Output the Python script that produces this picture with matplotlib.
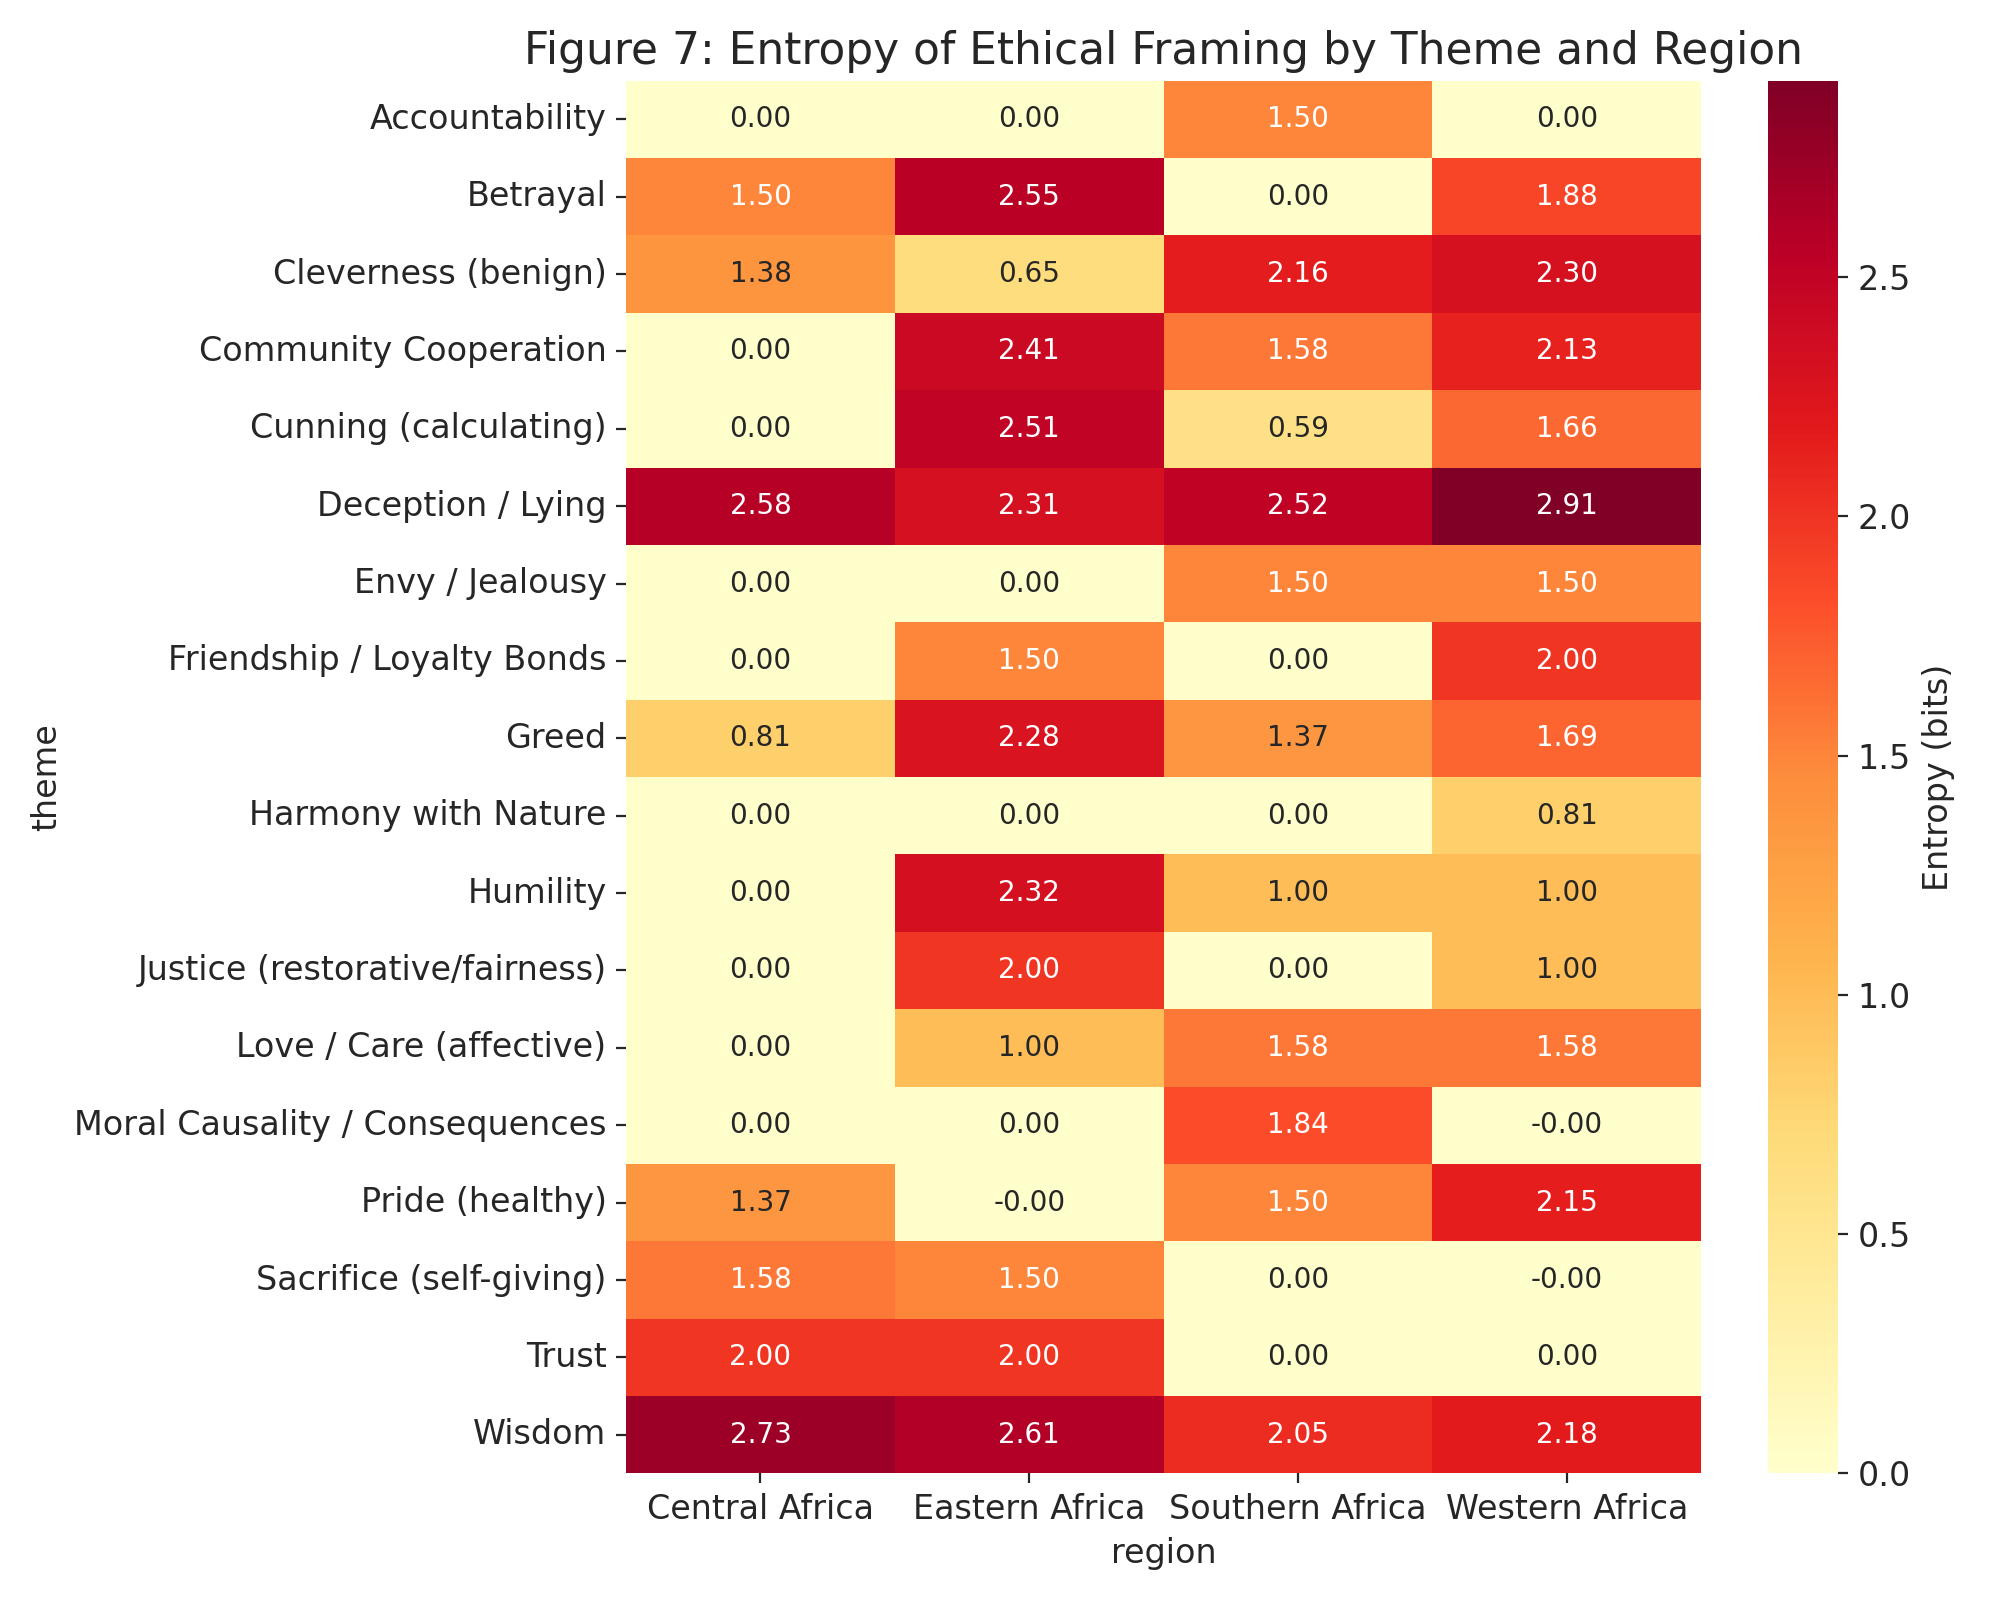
import matplotlib
matplotlib.use("Agg")
import matplotlib.pyplot as plt
import seaborn as sns
import numpy as np
import pandas as pd

themes = ["Accountability", "Betrayal", "Cleverness (benign)", "Community Cooperation",
          "Cunning (calculating)", "Deception / Lying", "Envy / Jealousy",
          "Friendship / Loyalty Bonds", "Greed", "Harmony with Nature", "Humility",
          "Justice (restorative/fairness)", "Love / Care (affective)",
          "Moral Causality / Consequences", "Pride (healthy)", "Sacrifice (self-giving)",
          "Trust", "Wisdom"]
regions = ["Central Africa", "Eastern Africa", "Southern Africa", "Western Africa"]

central = [0.00, 1.50, 1.38, 0.00, 0.00, 2.58, 0.00, 0.00, 0.81, 0.00, 0.00, 0.00, 0.00, 0.00, 1.37, 1.58, 2.00, 2.73]
eastern = [0.00, 2.55, 0.65, 2.41, 2.51, 2.31, 0.00, 1.50, 2.28, 0.00, 2.32, 2.00, 1.00, 0.00, -0.0, 1.50, 2.00, 2.61]
southern = [1.50, 0.00, 2.16, 1.58, 0.59, 2.52, 1.50, 0.00, 1.37, 0.00, 1.00, 0.00, 1.58, 1.84, 1.50, 0.00, 0.00, 2.05]
western = [0.00, 1.88, 2.30, 2.13, 1.66, 2.91, 1.50, 2.00, 1.69, 0.81, 1.00, 1.00, 1.58, -0.0, 2.15, -0.0, 0.00, 2.18]

plt.rcParams.update({
    "text.color": "0.15",
    "axes.labelcolor": "0.15",
    "xtick.color": "0.15",
    "ytick.color": "0.15",
})

df = pd.DataFrame({"Central Africa": central, "Eastern Africa": eastern,
                   "Southern Africa": southern, "Western Africa": western}, index=themes)
df.index.name = "theme"
df.columns.name = "region"

fig, ax = plt.subplots(figsize=(10, 8), dpi=200)
sns.heatmap(df, annot=True, fmt=".2f", cmap="YlOrRd", ax=ax,
            cbar_kws={"label": "Entropy (bits)"}, annot_kws={"fontsize": 10})
ax.set_title("Figure 7: Entropy of Ethical Framing by Theme and Region", fontsize=15.8)
ax.tick_params(labelsize=12)
ax.set_xlabel("region", fontsize=12)
ax.set_ylabel("theme", fontsize=12)
cbar = ax.collections[0].colorbar
cbar.ax.tick_params(labelsize=12)
cbar.set_label("Entropy (bits)", fontsize=12)
plt.tight_layout()
fig.savefig("out.png")
